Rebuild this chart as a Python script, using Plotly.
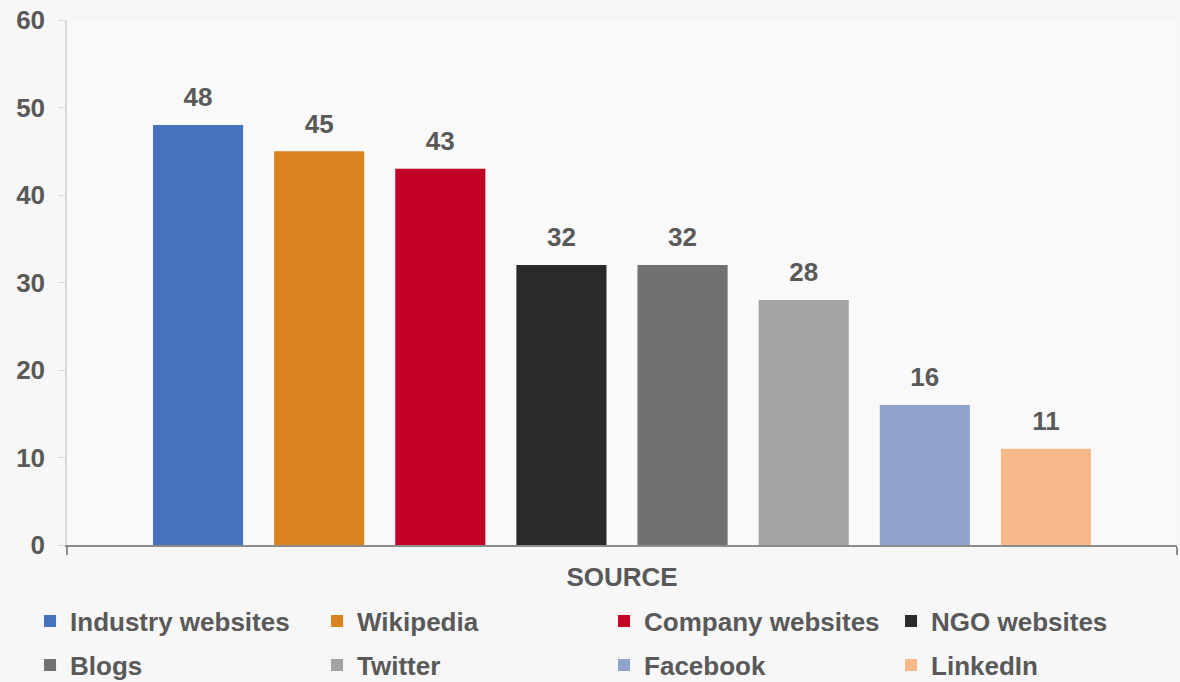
import plotly.graph_objects as go

category = ["SOURCE"]
sources = ["Industry websites", "Wikipedia", "Company websites", "NGO websites",
           "Blogs", "Twitter", "Facebook", "LinkedIn"]
values = [48, 45, 43, 32, 32, 28, 16, 11]
colors = ["#4571bd", "#d9841e", "#c20026", "#2a2a2a", "#717171", "#a3a3a3", "#8fa3cc", "#f7b88a"]
y_ticks = [0, 10, 20, 30, 40, 50, 60]

FONT = "Arial, Liberation Sans, sans-serif"
TXT = "#595959"
FS = 26
GAP = 0.127

fig = go.Figure()
for i, (name, v, c) in enumerate(zip(sources, values, colors)):
    fig.add_trace(go.Bar(
        x=category, y=[v], name=name, marker=dict(color=c, line=dict(width=0)),
        hoverinfo="skip", offsetgroup=str(i),
        legend="legend" if i < 4 else "legend2",
    ))
# value labels, grouped with the bars
for i, v in enumerate(values):
    fig.add_trace(go.Scatter(
        x=category, y=[v], mode="markers+text", text=[str(v)],
        textposition="top center", offsetgroup=str(i),
        marker=dict(size=18, opacity=0),
        textfont=dict(family=FONT, size=FS, color=TXT, weight="bold"),
        showlegend=False, hoverinfo="skip", cliponaxis=False,
    ))

leg_common = dict(
    orientation="h", xref="paper", yref="paper", x=-0.0333, xanchor="left",
    yanchor="middle", entrywidth=242, entrywidthmode="pixels",
    font=dict(family=FONT, size=FS, color=TXT, weight="bold"),
    bgcolor="rgba(0,0,0,0)", traceorder="normal", itemclick=False,
)

fig.update_layout(
    width=1180, height=682,
    margin=dict(l=67, r=3, t=20, b=137, autoexpand=False),
    paper_bgcolor="#f7f7f7", plot_bgcolor="#f9f9f9",
    barmode="group", bargap=GAP, bargroupgap=0.256,
    scattermode="group", scattergap=GAP,
    font=dict(family=FONT, color=TXT),
    showlegend=True,
    legend=dict(leg_common, y=-0.1448),
    legend2=dict(leg_common, y=-0.2286),
)
fig.update_yaxes(
    range=[0, 60], tickvals=y_ticks, showgrid=False, zeroline=False,
    showline=True, linecolor="#d9d9d9", linewidth=1.5,
    ticks="outside", ticklen=7, tickcolor="#d9d9d9", ticklabelstandoff=8,
    tickfont=dict(family=FONT, size=FS, color=TXT, weight="bold"),
    automargin=False,
)
fig.update_xaxes(
    showgrid=False, showline=True, linecolor="#8c8c8c", linewidth=2,
    ticks="outside", tickson="boundaries", ticklen=8, tickcolor="#8c8c8c", tickwidth=2,
    ticklabelstandoff=8,
    tickfont=dict(family=FONT, size=26, color=TXT, weight="bold"),
    automargin=False,
)

fig.write_html("out.html")
